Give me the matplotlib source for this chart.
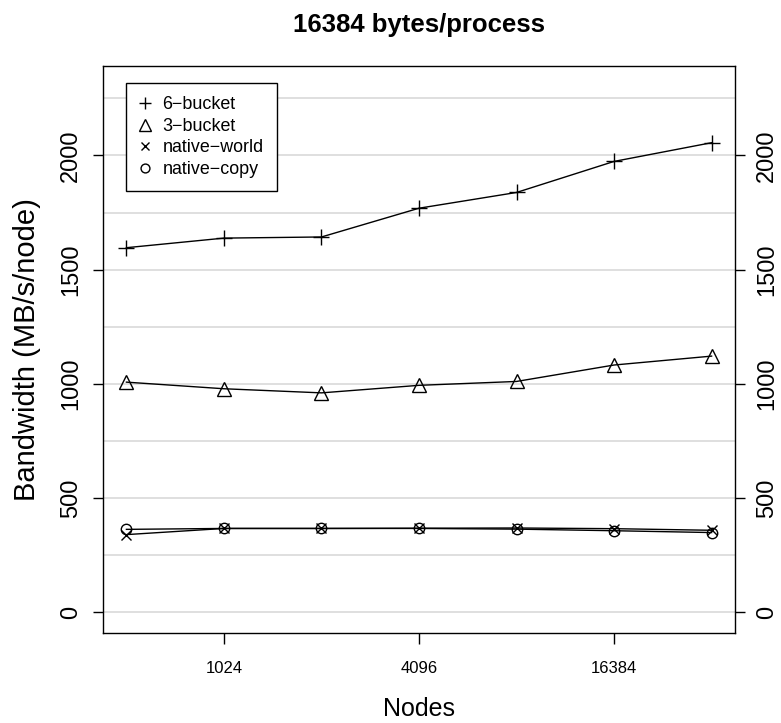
import numpy as np
import matplotlib
matplotlib.use("Agg")
import matplotlib.pyplot as plt

plt.rcParams['font.family'] = ['Liberation Sans', 'DejaVu Sans']

# nodes and bandwidth readings (MB/s/node)
nodes = [512, 1024, 2048, 4096, 8192, 16384, 32768]
six_bucket = [1596, 1638, 1643, 1769, 1838, 1974, 2056]
three_bucket = [1007, 978, 960, 993, 1010, 1082, 1121]
native_world = [339, 366, 366, 367, 368, 365, 358]
native_copy = [362, 366, 366, 366, 363, 356, 348]

series = [
    ("6\u2212bucket", six_bucket, "+", 11),
    ("3\u2212bucket", three_bucket, "^", 10),
    ("native\u2212world", native_world, "x", 7.5),
    ("native\u2212copy", native_copy, "o", 7.5),
]

xticks = [1024, 4096, 16384]
yticks = [0, 500, 1000, 1500, 2000]
grid_y = np.arange(0, 2251, 250)

fig = plt.figure(figsize=(7.81, 7.23), dpi=100)
ax = fig.add_axes([0.1319, 0.1245, 0.8092, 0.7842])

for y in grid_y:
    ax.axhline(y, color='#dcdcdc', lw=1.3, zorder=0)

handles = []
for name, vals, mk, ms in series:
    ax.plot(nodes, vals, color='black', lw=1.0, zorder=2)
    h, = ax.plot(nodes, vals, ls='none', marker=mk, ms=ms, mfc='none',
                 mec='black', mew=1.0, zorder=3, label=name)
    handles.append(h)

ax.set_xscale('log', base=2)
lx0, lx1 = np.log2(nodes[0]), np.log2(nodes[-1])
pad = 0.04 * (lx1 - lx0)
ax.set_xlim(2 ** (lx0 - pad), 2 ** (lx1 + pad))
ax.set_ylim(-92, 2392)

ax.set_xticks(xticks)
ax.set_xticklabels([str(t) for t in xticks], fontsize=12)
ax.xaxis.set_minor_locator(matplotlib.ticker.NullLocator())
ax.tick_params(axis='x', direction='out', length=8, pad=12, width=1)

ax.set_yticks(yticks)
ax.set_yticklabels([str(t) for t in yticks], fontsize=17)
ax.tick_params(axis='y', direction='out', length=7, pad=8, width=1,
               left=True, right=True, labelleft=True, labelright=True)
for t in ax.yaxis.get_major_ticks():
    for lab in (t.label1, t.label2):
        lab.set_rotation(90)
        lab.set_va('center')
        lab.set_fontsize(17)

for sp in ax.spines.values():
    sp.set_linewidth(1.0)
    sp.set_color('black')

ax.set_xlabel('Nodes', fontsize=18, labelpad=15)
ax.set_ylabel('Bandwidth (MB/s/node)', fontsize=21, labelpad=14)
fig.text(0.5365, 1 - 25 / 723, '16384 bytes/process', fontsize=18.5,
         fontweight='bold', ha='center', va='center')

leg = ax.legend(handles=handles, loc='upper left', bbox_to_anchor=(0.036, 0.97),
                fontsize=12.9, frameon=True, fancybox=False, framealpha=1,
                edgecolor='black', handlelength=0.7, handletextpad=0.6,
                labelspacing=0.25, borderpad=0.75, borderaxespad=0,
                markerscale=0.85)
leg.get_frame().set_linewidth(1.0)

fig.savefig('out.png', dpi=100)
